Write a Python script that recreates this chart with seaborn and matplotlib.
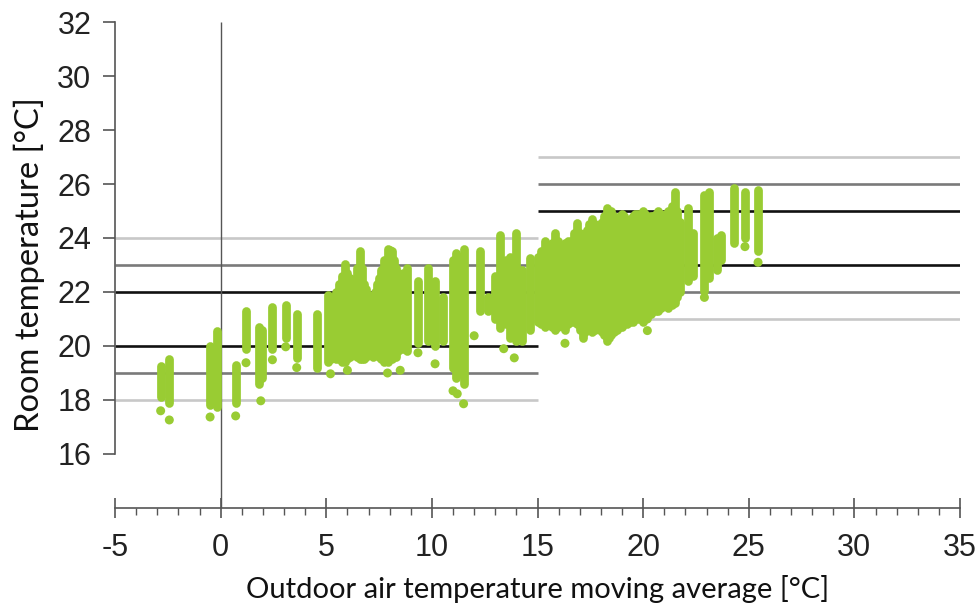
import matplotlib
matplotlib.use("Agg")
import matplotlib.pyplot as plt
import seaborn as sns
import pandas as pd
from matplotlib.ticker import MultipleLocator

# ---- data ----
# vertical point strips: outdoor moving average (x), lowest and highest room temperature
col_x = [-2.84, -2.43, -0.50, -0.30, -0.16, 0.71, 1.20, 1.80, 1.95, 2.45, 3.08, 3.60,
         4.55, 5.08, 5.20, 5.30, 5.45, 5.60, 5.75, 5.89, 6.00, 6.10, 6.20, 6.30, 6.45,
         6.60, 6.70, 6.80, 6.90, 7.00, 7.10, 7.20, 7.30, 7.40, 7.50, 7.60, 7.75,
         7.90, 8.00, 8.10, 8.20, 8.30, 8.40, 8.50, 8.65, 8.80, 9.34, 9.82, 10.15, 10.53,
         11.00, 11.15, 11.35, 11.50, 12.28, 12.66, 13.00, 13.22, 13.50, 13.70, 14.00,
         14.27, 14.65, 15.00, 15.15, 15.35, 15.50, 15.60, 15.70, 15.83, 15.95, 16.05,
         16.20, 16.30, 16.45, 16.60, 16.75, 16.87, 17.00, 17.15, 17.25, 17.35, 17.45,
         17.58, 17.70, 17.80, 17.95, 18.05, 18.15, 18.30, 18.40, 18.50, 18.60, 18.75,
         18.90, 19.00, 19.10, 19.25, 19.40, 19.50, 19.60, 19.75, 19.90, 20.00, 20.10,
         20.20, 20.35, 20.45, 20.60, 20.70, 20.85, 20.95, 21.10, 21.20, 21.35, 21.50,
         21.62, 21.75, 22.10, 22.35, 22.90, 23.10, 23.50, 23.70, 24.30, 24.82, 25.44]
col_lo = [18.10, 17.90, 17.80, 17.90, 17.75, 17.90, 19.90, 18.60, 18.80, 19.90, 20.30, 19.55,
          19.20, 19.40, 19.50, 19.60, 19.50, 19.50, 19.40, 19.40, 19.50, 19.60, 19.70, 19.70, 19.60,
          19.50, 19.50, 19.50, 19.60, 19.70, 19.70, 19.60, 19.70, 19.70, 19.60, 19.50, 19.40,
          19.40, 19.50, 19.50, 19.60, 19.60, 19.80, 19.90, 19.90, 19.80, 20.10, 20.20, 20.00, 20.20,
          19.20, 18.80, 19.00, 18.60, 21.30, 21.30, 21.00, 20.65, 20.80, 20.30, 20.20,
          20.20, 20.60, 20.90, 20.80, 20.70, 20.80, 20.90, 20.70, 20.60, 20.70, 20.80,
          20.70, 20.60, 20.80, 20.90, 20.90, 20.80, 20.60, 20.30, 20.50, 20.60, 20.60,
          20.50, 20.60, 20.70, 20.60, 20.50, 20.40, 20.20, 20.30, 20.40, 20.50, 20.60,
          20.70, 20.70, 20.80, 20.80, 20.90, 20.90, 21.00, 21.00, 21.00, 20.90, 21.00,
          21.10, 21.20, 21.30, 21.30, 21.30, 21.40, 21.50, 21.50, 21.40, 21.50, 21.60,
          21.80, 22.00, 22.40, 22.60, 22.05, 22.50, 22.80, 23.20, 23.80, 24.00, 23.50]
col_hi = [19.25, 19.50, 20.00, 19.80, 20.55, 19.30, 21.30, 20.70, 20.60, 21.45, 21.50, 21.20,
          21.20, 21.90, 21.80, 21.50, 22.00, 22.30, 22.60, 23.05, 22.70, 22.50, 22.40, 22.30, 22.90,
          23.50, 22.90, 22.30, 22.10, 21.90, 21.80, 21.80, 22.00, 22.30, 22.50, 22.80, 23.20,
          23.60, 23.55, 23.50, 23.20, 22.90, 22.70, 22.60, 22.70, 22.90, 22.40, 22.90, 22.40, 21.80,
          23.20, 23.45, 23.30, 23.60, 23.50, 21.80, 22.60, 24.10, 23.20, 23.30, 24.20,
          22.80, 23.25, 23.30, 23.50, 23.90, 23.60, 23.40, 23.80, 24.20, 23.90, 23.70,
          23.70, 23.80, 23.90, 23.90, 24.20, 24.55, 24.20, 24.00, 24.20, 24.30, 24.50,
          24.70, 24.50, 24.30, 24.50, 24.60, 24.80, 25.10, 25.00, 25.00, 24.80, 24.70,
          24.80, 24.90, 24.80, 24.60, 24.70, 24.80, 24.90, 24.90, 24.90, 25.00, 24.90,
          24.80, 24.80, 24.80, 24.90, 25.00, 24.90, 24.70, 24.90, 25.00, 25.20, 25.70,
          25.00, 24.60, 25.10, 24.20, 25.60, 25.70, 24.00, 24.10, 25.84, 25.70, 25.76]

# isolated points below / above the strips
pt_x = [-2.84, -2.43, -0.50, 0.71, 1.20, 1.90, 2.45, 3.08, 3.60, 5.20, 6.00, 7.90, 8.50,
        9.34, 10.15, 11.00, 11.20, 11.50, 12.00, 13.40, 13.90, 16.30, 20.20, 20.20,
        22.90, 24.82, 25.44]
pt_y = [17.60, 17.26, 17.37, 17.41, 19.38, 17.97, 19.49, 19.97, 19.20, 18.97, 19.10, 19.00, 19.10,
        19.75, 19.34, 18.34, 18.23, 17.86, 20.38, 19.90, 19.56, 20.10, 20.57, 21.00,
        21.80, 23.68, 23.10]

# comfort category limits: (x from, x to, temperature, class)
band_x0 = [-5, -5, -5, -5, -5, -5, 15, 15, 15, 15, 15, 15]
band_x1 = [15, 15, 15, 15, 15, 15, 35, 35, 35, 35, 35, 35]
band_y = [24, 23, 22, 20, 19, 18, 27, 26, 25, 23, 22, 21]
band_cls = ["III", "II", "I", "I", "II", "III", "III", "II", "I", "I", "II", "III"]

x_ticks = [-5, 0, 5, 10, 15, 20, 25, 30, 35]
y_ticks = [16, 18, 20, 22, 24, 26, 28, 30, 32]

# ---- drawing ----
sns.set_style("white")
plt.rcParams["font.family"] = ["Liberation Sans", "DejaVu Sans"]

fig = plt.figure(figsize=(9.79, 6.08), dpi=100)
ax = fig.add_axes([0.1175, 0.1645, 0.8631, 0.7993])

green = "#99cc33"
band_color = {"I": "#111111", "II": "#7a7a7a", "III": "#c8c8c8"}

bands = pd.DataFrame({"x0": band_x0, "x1": band_x1, "y": band_y, "cls": band_cls})
for _, r in bands.iterrows():
    ax.hlines(r["y"], r["x0"], r["x1"], color=band_color[r["cls"]], lw=1.9, zorder=1)

ax.vlines(0, 14, 32, color="#555555", lw=1.0, zorder=1)

strips = pd.DataFrame({"x": col_x, "lo": col_lo, "hi": col_hi})
for _, r in strips.iterrows():
    ax.plot([r["x"], r["x"]], [r["lo"], r["hi"]], color=green, lw=6.3,
            solid_capstyle="round", zorder=3)

pts = pd.DataFrame({"x": pt_x, "y": pt_y})
sns.scatterplot(data=pts, x="x", y="y", ax=ax, color=green, s=42, edgecolor="none",
                zorder=3)

ax.set_xlim(-5, 35)
ax.set_ylim(14, 32)
ax.set_xticks(x_ticks)
ax.set_yticks(y_ticks)
ax.set_xticklabels([str(t) for t in x_ticks])
ax.set_yticklabels([str(t) for t in y_ticks])
ax.xaxis.set_minor_locator(MultipleLocator(1))

for s in ["top", "right"]:
    ax.spines[s].set_visible(False)
axis_col = "#555555"
ax.spines["left"].set_bounds(16, 32)
ax.spines["left"].set_color(axis_col)
ax.spines["bottom"].set_color(axis_col)
ax.spines["left"].set_linewidth(1.2)
ax.spines["bottom"].set_linewidth(1.2)

ax.tick_params(axis="y", which="major", direction="out", length=9, width=1.2,
               color=axis_col, labelsize=22, labelcolor="#222222", pad=8, left=True)
ax.tick_params(axis="x", which="major", direction="inout", length=14, width=1.2,
               color=axis_col, labelsize=22, labelcolor="#222222", pad=11, bottom=True)
ax.tick_params(axis="x", which="minor", direction="out", length=5, width=1.0,
               color=axis_col, bottom=True)

ax.set_xlabel("Outdoor air temperature moving average [°C]", fontsize=21,
              family=["Lato", "DejaVu Sans"], color="#111111", labelpad=9)
ax.set_ylabel("Room temperature [°C]", fontsize=23.5,
              family=["Lato", "DejaVu Sans"], color="#111111", labelpad=9)
ax.grid(False)

fig.savefig("out.png", dpi=100)
